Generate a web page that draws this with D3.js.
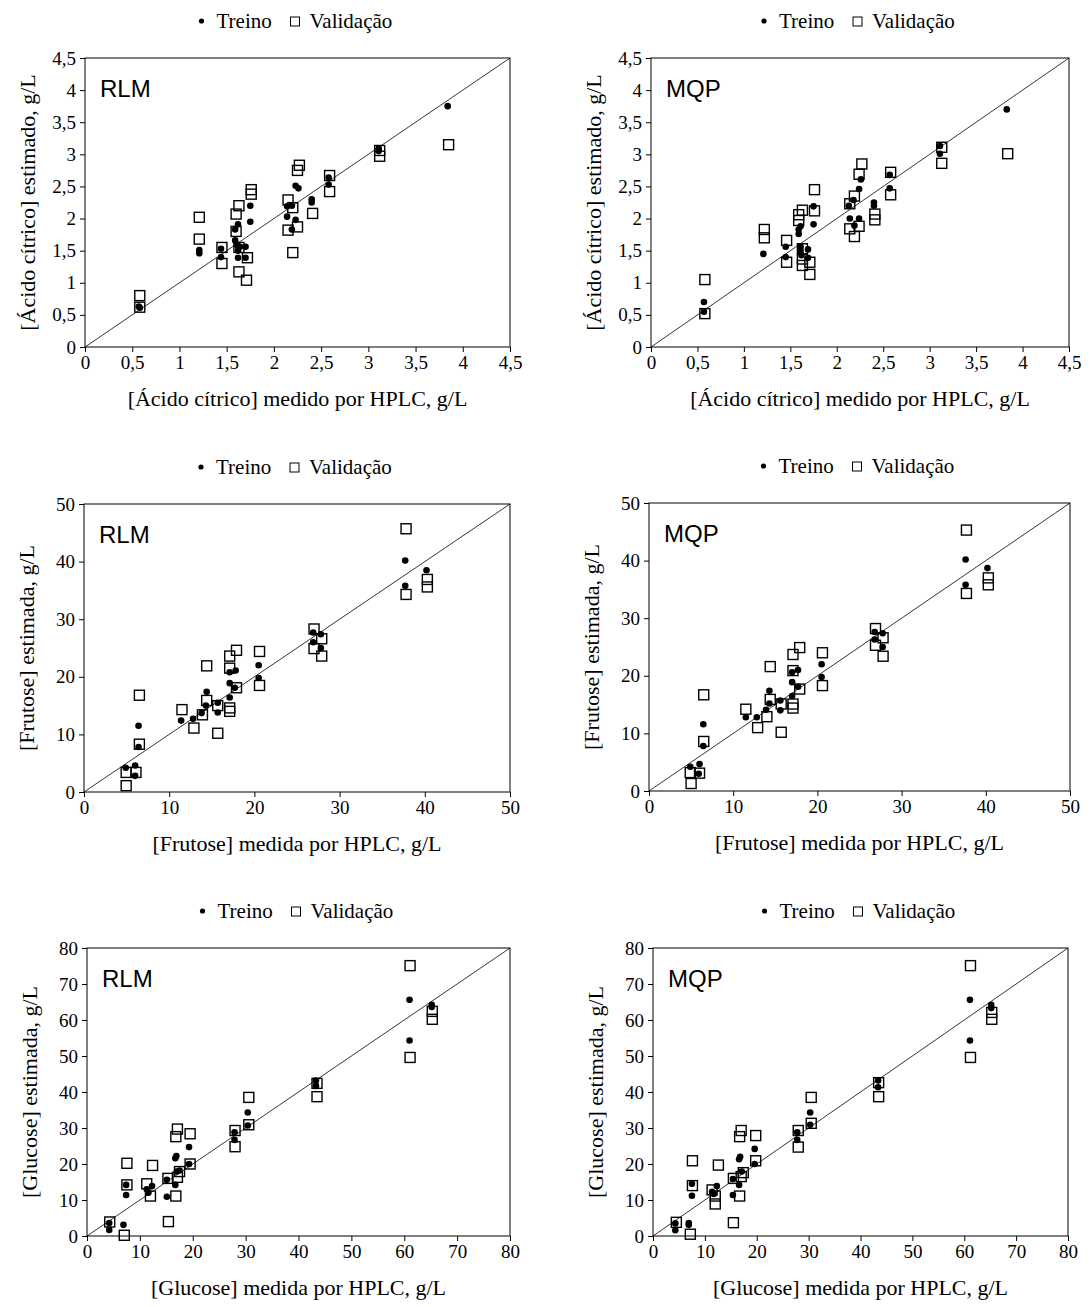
<!DOCTYPE html>
<html>
<head>
<meta charset="utf-8">
<script src="https://cdn.jsdelivr.net/npm/d3@7"></script>
<style>
  body { margin: 0; background: #ffffff; }
</style>
</head>
<body>
<div id="chart"></div>
<script>
// values: [medido por HPLC, estimado]
const acidoRlmTreino = [[0.57,0.63],[0.58,0.61],[1.21,1.51],[1.21,1.46],[1.44,1.53],[1.44,1.40],[1.59,1.83],[1.62,1.91],[1.59,1.66],[1.61,1.59],[1.62,1.50],[1.62,1.39],[1.64,1.56],[1.70,1.56],[1.70,1.39],[1.75,2.20],[1.75,1.95],[2.14,2.19],[2.14,2.03],[2.19,2.20],[2.19,1.83],[2.23,2.51],[2.26,2.47],[2.23,1.98],[2.40,2.30],[2.40,2.25],[2.58,2.64],[2.58,2.53],[3.11,3.09],[3.11,3.05],[3.84,3.75]];
const acidoRlmValidacao = [[0.58,0.80],[0.58,0.62],[1.21,2.02],[1.21,1.68],[1.45,1.55],[1.45,1.30],[1.60,2.07],[1.63,2.20],[1.60,1.80],[1.63,1.55],[1.63,1.17],[1.71,1.04],[1.72,1.39],[1.76,2.45],[1.76,2.38],[2.15,2.29],[2.15,1.82],[2.20,2.17],[2.20,1.47],[2.25,2.75],[2.27,2.83],[2.25,1.87],[2.41,2.08],[2.59,2.67],[2.59,2.42],[3.12,3.06],[3.12,2.97],[3.85,3.15]];

const acidoMqpTreino = [[0.57,0.70],[0.57,0.55],[1.21,1.45],[1.45,1.56],[1.45,1.40],[1.59,1.83],[1.59,1.76],[1.61,1.88],[1.61,1.56],[1.61,1.50],[1.62,1.43],[1.69,1.52],[1.69,1.39],[1.75,2.19],[1.75,1.91],[2.13,2.20],[2.14,2.00],[2.18,2.29],[2.19,1.89],[2.24,2.46],[2.24,2.00],[2.26,2.61],[2.40,2.25],[2.40,2.20],[2.57,2.68],[2.57,2.47],[3.11,3.13],[3.11,3.01],[3.83,3.70]];
const acidoMqpValidacao = [[0.58,1.05],[0.58,0.52],[1.22,1.83],[1.22,1.70],[1.46,1.66],[1.46,1.32],[1.59,2.06],[1.59,1.97],[1.63,2.13],[1.63,1.53],[1.63,1.37],[1.63,1.27],[1.71,1.32],[1.71,1.13],[1.76,2.45],[1.76,2.12],[2.14,2.23],[2.14,1.84],[2.19,2.35],[2.19,1.72],[2.24,2.69],[2.24,1.88],[2.27,2.85],[2.41,2.07],[2.41,1.98],[2.58,2.72],[2.58,2.37],[3.13,3.11],[3.13,2.86],[3.84,3.01]];

const frutoseRlmTreino = [[4.9,4.2],[6.0,4.6],[6.0,2.8],[6.4,11.5],[6.4,7.8],[11.4,12.4],[12.8,12.7],[13.8,13.7],[14.4,17.4],[14.3,15.0],[15.7,15.5],[15.7,13.8],[17.1,16.4],[17.1,18.9],[17.1,20.8],[17.8,21.1],[17.7,18.1],[20.5,22.0],[20.5,19.8],[26.9,27.7],[26.9,26.0],[27.8,27.4],[27.8,25.0],[37.7,40.2],[37.7,35.8],[40.2,38.5]];
const frutoseRlmValidacao = [[4.95,3.4],[4.95,1.1],[6.1,3.4],[6.5,16.8],[6.5,8.3],[11.5,14.3],[12.9,11.1],[13.9,13.4],[14.4,21.9],[14.4,15.9],[15.7,15.0],[15.7,10.2],[17.1,23.6],[17.1,21.5],[17.1,14.6],[17.1,14.0],[17.9,24.6],[17.9,18.1],[20.6,24.4],[20.6,18.5],[27.0,28.3],[27.0,24.9],[27.9,26.6],[27.9,23.6],[37.8,45.7],[37.8,34.3],[40.3,36.9],[40.3,35.6]];

const frutoseMqpTreino = [[4.9,4.2],[6.0,4.7],[5.9,3.0],[6.45,11.6],[6.45,7.8],[11.5,12.8],[12.8,12.8],[13.9,14.1],[14.3,17.4],[14.3,15.2],[15.6,15.7],[15.6,14.0],[17.0,16.5],[17.0,18.9],[17.0,20.6],[17.7,21.0],[17.7,18.1],[20.5,22.0],[20.5,19.8],[26.8,27.6],[26.8,26.3],[27.75,27.4],[27.75,25.0],[37.6,40.2],[37.6,35.8],[40.2,38.7]];
const frutoseMqpValidacao = [[4.9,3.2],[5.0,1.3],[6.0,3.1],[6.5,16.7],[6.5,8.6],[11.5,14.2],[12.9,11.0],[14.0,12.9],[14.4,21.6],[14.4,15.9],[15.7,15.1],[15.7,10.2],[17.1,23.7],[17.1,20.9],[17.1,15.1],[17.1,14.4],[17.9,24.9],[17.9,17.7],[20.6,24.0],[20.6,18.3],[26.9,28.2],[26.9,25.3],[27.8,26.6],[27.8,23.4],[37.7,45.3],[37.7,34.3],[40.3,37.0],[40.3,35.8]];

const glucoseRlmTreino = [[4.2,1.7],[4.2,3.6],[6.9,3.1],[7.4,11.4],[7.4,14.2],[11.3,13.0],[11.6,12.0],[12.3,13.9],[15.1,15.6],[15.1,10.9],[16.7,21.6],[16.9,22.2],[16.7,14.2],[17.0,17.9],[17.5,18.2],[19.3,24.7],[19.3,20.0],[27.9,28.8],[27.9,26.7],[30.4,34.3],[30.4,30.7],[43.3,43.2],[43.3,41.7],[61.0,65.6],[61.0,54.3],[65.2,64.2],[65.2,63.6]];
const glucoseRlmValidacao = [[4.3,3.9],[7.05,0.2],[7.55,20.2],[7.55,14.2],[11.3,14.5],[12.0,11.1],[12.4,19.6],[15.3,16.0],[15.4,4.0],[16.8,27.6],[17.1,29.7],[16.8,11.1],[17.1,16.3],[17.5,17.9],[19.5,28.4],[19.5,20.0],[28.0,29.3],[28.0,24.8],[30.6,38.5],[30.6,30.9],[43.5,42.4],[43.5,38.7],[61.1,75.1],[61.1,49.6],[65.3,62.4],[65.3,60.2]];

const glucoseMqpTreino = [[4.3,1.6],[4.3,3.5],[6.9,3.1],[6.9,3.6],[7.5,11.2],[7.5,14.5],[11.4,12.3],[11.7,11.7],[12.3,13.9],[15.4,15.8],[15.4,11.4],[16.6,21.3],[16.8,22.0],[16.6,14.2],[17.1,17.9],[19.6,24.2],[19.6,20.0],[27.8,28.8],[27.8,26.7],[30.3,34.3],[30.3,30.9],[43.4,43.2],[43.4,41.3],[61.1,65.6],[61.1,54.3],[65.2,64.2],[65.2,63.3]];
const glucoseMqpValidacao = [[4.5,3.8],[7.2,0.5],[7.6,20.9],[7.6,14.0],[11.4,12.8],[12.0,11.1],[12.0,8.9],[12.6,19.7],[15.5,16.0],[15.5,3.7],[16.7,27.6],[17.0,29.3],[16.7,11.1],[17.0,16.5],[17.4,17.6],[19.8,27.9],[19.8,20.9],[28.0,29.3],[28.0,24.7],[30.5,38.5],[30.5,31.3],[43.5,42.6],[43.5,38.7],[61.2,75.1],[61.2,49.6],[65.3,62.1],[65.3,60.2]];

// axis ticks for each analyte
const acidoTicks = [0, 0.5, 1, 1.5, 2, 2.5, 3, 3.5, 4, 4.5];
const frutoseTicks = [0, 10, 20, 30, 40, 50];
const glucoseTicks = [0, 10, 20, 30, 40, 50, 60, 70, 80];

const legendLabels = ["Treino", "Validação"];

const serif = "'Liberation Serif', 'Times New Roman', serif";
const sans = "'Liberation Sans', Arial, sans-serif";

const width = 1090, height = 1307;

const svg = d3.select("#chart")
    .append("svg")
    .attr("width", width)
    .attr("height", height)
    .style("background", "#ffffff");

// one entry per panel: data + where the plot box sits on the page
const panels = [
    { treino: acidoRlmTreino, validacao: acidoRlmValidacao, ticks: acidoTicks, tag: "RLM",
      xTitle: "[Ácido cítrico] medido por HPLC, g/L", yTitle: "[Ácido cítrico] estimado, g/L",
      x0: 85, y0: 58, w: 425, h: 289 },
    { treino: acidoMqpTreino, validacao: acidoMqpValidacao, ticks: acidoTicks, tag: "MQP",
      xTitle: "[Ácido cítrico] medido por HPLC, g/L", yTitle: "[Ácido cítrico] estimado, g/L",
      x0: 651, y0: 58, w: 418, h: 289 },
    { treino: frutoseRlmTreino, validacao: frutoseRlmValidacao, ticks: frutoseTicks, tag: "RLM",
      xTitle: "[Frutose] medida por HPLC, g/L", yTitle: "[Frutose] estimada, g/L",
      x0: 84, y0: 504, w: 426, h: 288 },
    { treino: frutoseMqpTreino, validacao: frutoseMqpValidacao, ticks: frutoseTicks, tag: "MQP",
      xTitle: "[Frutose] medida por HPLC, g/L", yTitle: "[Frutose] estimada, g/L",
      x0: 649, y0: 503, w: 421, h: 288 },
    { treino: glucoseRlmTreino, validacao: glucoseRlmValidacao, ticks: glucoseTicks, tag: "RLM",
      xTitle: "[Glucose] medida por HPLC, g/L", yTitle: "[Glucose] estimada, g/L",
      x0: 87, y0: 948, w: 423, h: 288 },
    { treino: glucoseMqpTreino, validacao: glucoseMqpValidacao, ticks: glucoseTicks, tag: "MQP",
      xTitle: "[Glucose] medida por HPLC, g/L", yTitle: "[Glucose] estimada, g/L",
      x0: 653, y0: 948, w: 415, h: 288 }
];

// decimal comma like the original
const fmt = d => String(d).replace(".", ",");

panels.forEach(p => {
    const g = svg.append("g").attr("transform", `translate(${p.x0}, ${p.y0})`);
    const max = p.ticks[p.ticks.length - 1];

    const x = d3.scaleLinear().domain([0, max]).range([0, p.w]);
    const y = d3.scaleLinear().domain([0, max]).range([p.h, 0]);

    // axes with outward ticks
    const xAxis = g.append("g")
        .attr("transform", `translate(0, ${p.h})`)
        .call(d3.axisBottom(x).tickValues(p.ticks).tickFormat(fmt).tickSize(5).tickSizeOuter(0).tickPadding(4));
    const yAxis = g.append("g")
        .call(d3.axisLeft(y).tickValues(p.ticks).tickFormat(fmt).tickSize(5).tickSizeOuter(0).tickPadding(4));

    [xAxis, yAxis].forEach(a => {
        a.select(".domain").remove();
        a.selectAll("line").attr("stroke", "#000");
        a.selectAll("text")
            .style("font-family", serif)
            .style("font-size", "19px")
            .attr("fill", "#000");
    });

    // plot frame
    g.append("rect")
        .attr("width", p.w)
        .attr("height", p.h)
        .attr("fill", "none")
        .attr("stroke", "#000")
        .attr("stroke-width", 1);

    // 1:1 line
    g.append("line")
        .attr("x1", x(0)).attr("y1", y(0))
        .attr("x2", x(max)).attr("y2", y(max))
        .attr("stroke", "#000")
        .attr("stroke-width", 0.8);

    // validation squares
    const s = 10;
    g.selectAll(".val")
        .data(p.validacao)
        .join("rect")
        .attr("class", "val")
        .attr("x", d => x(d[0]) - s / 2)
        .attr("y", d => y(d[1]) - s / 2)
        .attr("width", s)
        .attr("height", s)
        .attr("fill", "none")
        .attr("stroke", "#000")
        .attr("stroke-width", 1.4);

    // training dots
    g.selectAll(".tre")
        .data(p.treino)
        .join("circle")
        .attr("class", "tre")
        .attr("cx", d => x(d[0]))
        .attr("cy", d => y(d[1]))
        .attr("r", 3.3)
        .attr("fill", "#000");

    // method tag
    g.append("text")
        .attr("x", 15)
        .attr("y", 39)
        .style("font-family", sans)
        .style("font-size", "24px")
        .text(p.tag);

    // axis titles
    g.append("text")
        .attr("x", p.w / 2)
        .attr("y", p.h + 59)
        .attr("text-anchor", "middle")
        .style("font-family", serif)
        .style("font-size", "22px")
        .text(p.xTitle);

    g.append("text")
        .attr("transform", `translate(-50, ${p.h / 2}) rotate(-90)`)
        .attr("text-anchor", "middle")
        .style("font-family", serif)
        .style("font-size", "22px")
        .text(p.yTitle);

    // legend above the plot
    const legend = g.append("g")
        .attr("transform", `translate(${p.w / 2}, -37)`);

    legend.append("circle")
        .attr("cx", -96)
        .attr("cy", 0)
        .attr("r", 2.6)
        .attr("fill", "#000");
    legend.append("text")
        .attr("x", -81)
        .attr("y", 7)
        .style("font-family", serif)
        .style("font-size", "21px")
        .text(legendLabels[0]);
    legend.append("rect")
        .attr("x", -7)
        .attr("y", -4)
        .attr("width", 9)
        .attr("height", 9)
        .attr("fill", "none")
        .attr("stroke", "#000")
        .attr("stroke-width", 1);
    legend.append("text")
        .attr("x", 12)
        .attr("y", 7)
        .style("font-family", serif)
        .style("font-size", "21px")
        .text(legendLabels[1]);
});
</script>
</body>
</html>
